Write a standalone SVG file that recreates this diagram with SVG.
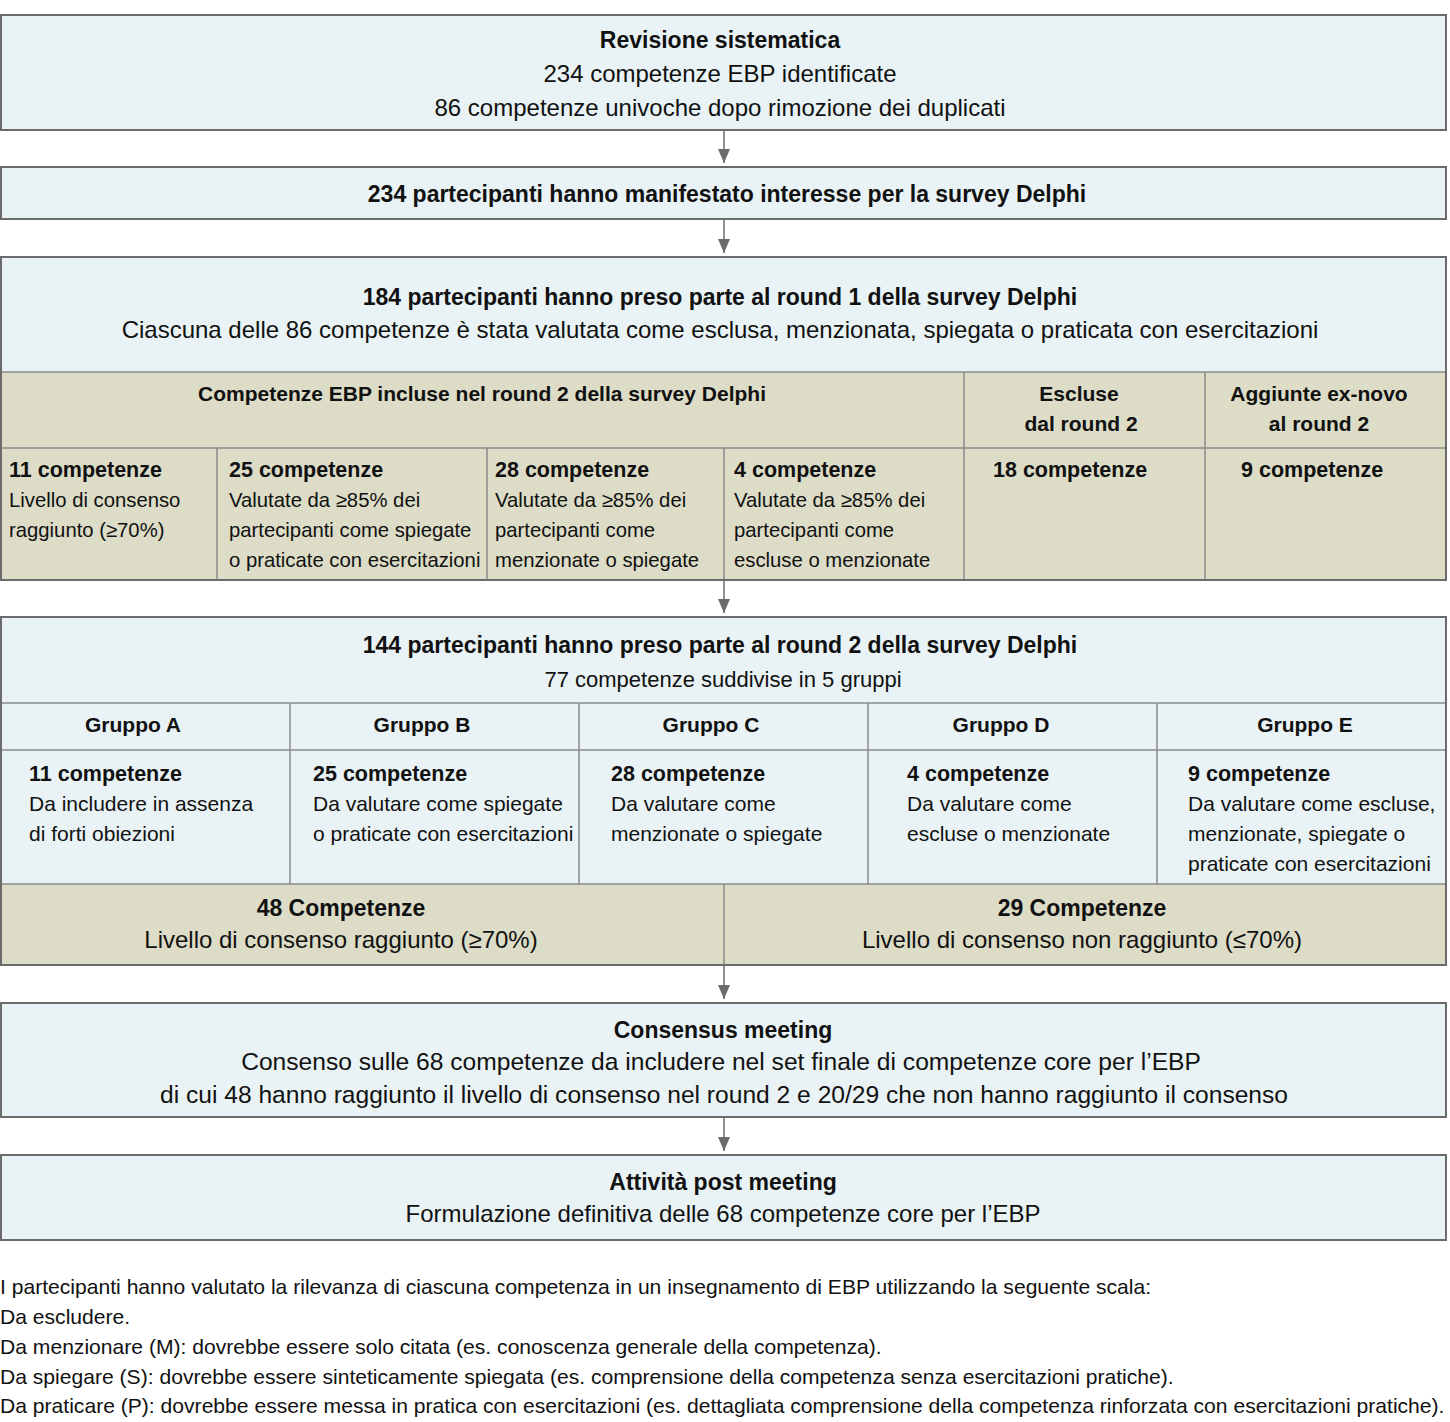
<svg xmlns="http://www.w3.org/2000/svg" width="1450" height="1422" viewBox="0 0 1450 1422">
<style>
text{font-family:"Liberation Sans",Arial,sans-serif;fill:#111;}
.t{font-size:23px;font-weight:bold;text-anchor:middle;}
.r{font-size:24px;text-anchor:middle;}
.r2{font-size:24.6px;text-anchor:middle;}
.h{font-size:21px;font-weight:bold;text-anchor:middle;}
.cb{font-size:21.5px;font-weight:bold;}
.c{font-size:20.3px;}
.gc{font-size:21px;}
.fn{font-size:21.1px;}
.blue{fill:#E9F3F5;}
.olive{fill:#DCDCC7;}
.box{fill:none;stroke:#6b6b6b;stroke-width:2;}
.div{stroke:#8a8a8a;stroke-width:1.5;fill:none;}
.arr{stroke:#6b6b6b;stroke-width:1.5;fill:none;marker-end:url(#ah);}
</style>
<defs>
<marker id="ah" markerWidth="15" markerHeight="12" refX="14" refY="6" orient="auto" markerUnits="userSpaceOnUse" viewBox="0 0 15 12">
<path d="M0,0 L14,6 L0,12 Z" fill="#6b6b6b"/>
</marker>
</defs>
<g id="connectors">
<line class="arr" x1="724" y1="131" x2="724" y2="163"/>
<line class="arr" x1="724" y1="220" x2="724" y2="253"/>
<line class="arr" x1="724" y1="580" x2="724" y2="613"/>
<line class="arr" x1="724" y1="966" x2="724" y2="999"/>
<line class="arr" x1="724" y1="1118" x2="724" y2="1151"/>
</g>
<g id="revisione">
<rect class="blue" x="1" y="15" width="1445" height="115"/>
<rect class="box" x="1" y="15" width="1445" height="115"/>
<text class="t" x="720" y="48">Revisione sistematica</text>
<text class="r" x="720" y="82">234 competenze EBP identificate</text>
<text class="r" x="720" y="116">86 competenze univoche dopo rimozione dei duplicati</text>
</g>
<g id="interesse">
<rect class="blue" x="1" y="167" width="1445" height="52"/>
<rect class="box" x="1" y="167" width="1445" height="52"/>
<text class="t" x="727" y="202">234 partecipanti hanno manifestato interesse per la survey Delphi</text>
</g>
<g id="round1">
<rect class="blue" x="1" y="257" width="1445" height="115"/>
<rect class="olive" x="1" y="372" width="1445" height="208"/>
<path class="div" d="M1,372 H1446 M1,448 H1446 M964,372 V580 M1205,372 V580 M217,448 V580 M487,448 V580 M724,448 V580"/>
<rect class="box" x="1" y="257" width="1445" height="323"/>
<text class="t" x="720" y="305">184 partecipanti hanno preso parte al round 1 della survey Delphi</text>
<text class="r" x="720" y="338">Ciascuna delle 86 competenze è stata valutata come esclusa, menzionata, spiegata o praticata con esercitazioni</text>
<text class="h" x="482" y="401">Competenze EBP incluse nel round 2 della survey Delphi</text>
<text class="h" x="1079" y="401">Escluse</text>
<text class="h" x="1081" y="431">dal round 2</text>
<text class="h" x="1319" y="401">Aggiunte ex-novo</text>
<text class="h" x="1319" y="431">al round 2</text>
<text class="cb" x="9" y="477">11 competenze</text>
<text class="c" x="9" y="507">Livello di consenso</text>
<text class="c" x="9" y="537">raggiunto (≥70%)</text>
<text class="cb" x="229" y="477">25 competenze</text>
<text class="c" x="229" y="507">Valutate da ≥85% dei</text>
<text class="c" x="229" y="537">partecipanti come spiegate</text>
<text class="c" x="229" y="567">o praticate con esercitazioni</text>
<text class="cb" x="495" y="477">28 competenze</text>
<text class="c" x="495" y="507">Valutate da ≥85% dei</text>
<text class="c" x="495" y="537">partecipanti come</text>
<text class="c" x="495" y="567">menzionate o spiegate</text>
<text class="cb" x="734" y="477">4 competenze</text>
<text class="c" x="734" y="507">Valutate da ≥85% dei</text>
<text class="c" x="734" y="537">partecipanti come</text>
<text class="c" x="734" y="567">escluse o menzionate</text>
<text class="cb" x="993" y="477">18 competenze</text>
<text class="cb" x="1241" y="477">9 competenze</text>
</g>
<g id="round2">
<rect class="blue" x="1" y="617" width="1445" height="267"/>
<rect class="olive" x="1" y="884" width="1445" height="81"/>
<path class="div" d="M1,703 H1446 M1,750 H1446 M1,884 H1446 M290,703 V884 M579,703 V884 M868,703 V884 M1157,703 V884 M724,884 V965"/>
<rect class="box" x="1" y="617" width="1445" height="348"/>
<text class="t" x="720" y="653">144 partecipanti hanno preso parte al round 2 della survey Delphi</text>
<text x="723" y="687" style="font-size:22px;text-anchor:middle">77 competenze suddivise in 5 gruppi</text>
<text class="h" x="133" y="732">Gruppo A</text>
<text class="h" x="422" y="732">Gruppo B</text>
<text class="h" x="711" y="732">Gruppo C</text>
<text class="h" x="1001" y="732">Gruppo D</text>
<text class="h" x="1305" y="732">Gruppo E</text>
<text class="cb" x="29" y="781">11 competenze</text>
<text class="gc" x="29" y="811">Da includere in assenza</text>
<text class="gc" x="29" y="841">di forti obiezioni</text>
<text class="cb" x="313" y="781">25 competenze</text>
<text class="gc" x="313" y="811">Da valutare come spiegate</text>
<text class="gc" x="313" y="841">o praticate con esercitazioni</text>
<text class="cb" x="611" y="781">28 competenze</text>
<text class="gc" x="611" y="811">Da valutare come</text>
<text class="gc" x="611" y="841">menzionate o spiegate</text>
<text class="cb" x="907" y="781">4 competenze</text>
<text class="gc" x="907" y="811">Da valutare come</text>
<text class="gc" x="907" y="841">escluse o menzionate</text>
<text class="cb" x="1188" y="781">9 competenze</text>
<text class="gc" x="1188" y="811">Da valutare come escluse,</text>
<text class="gc" x="1188" y="841">menzionate, spiegate o</text>
<text class="gc" x="1188" y="871">praticate con esercitazioni</text>
<text class="t" x="341" y="916">48 Competenze</text>
<text class="r" x="341" y="948">Livello di consenso raggiunto (≥70%)</text>
<text class="t" x="1082" y="916">29 Competenze</text>
<text class="r" x="1082" y="948">Livello di consenso non raggiunto (≤70%)</text>
</g>
<g id="consensus">
<rect class="blue" x="1" y="1003" width="1445" height="114"/>
<rect class="box" x="1" y="1003" width="1445" height="114"/>
<text class="t" x="723" y="1038">Consensus meeting</text>
<text class="r2" x="721" y="1070">Consenso sulle 68 competenze da includere nel set finale di competenze core per l’EBP</text>
<text class="r2" x="724" y="1103">di cui 48 hanno raggiunto il livello di consenso nel round 2 e 20/29 che non hanno raggiunto il consenso</text>
</g>
<g id="post">
<rect class="blue" x="1" y="1155" width="1445" height="85"/>
<rect class="box" x="1" y="1155" width="1445" height="85"/>
<text class="t" x="723" y="1190">Attività post meeting</text>
<text class="r" x="723" y="1222">Formulazione definitiva delle 68 competenze core per l’EBP</text>
</g>
<g id="nota">
<text class="fn" x="0" y="1294">I partecipanti hanno valutato la rilevanza di ciascuna competenza in un insegnamento di EBP utilizzando la seguente scala:</text>
<text class="fn" x="0" y="1324">Da escludere.</text>
<text class="fn" x="0" y="1354">Da menzionare (M): dovrebbe essere solo citata (es. conoscenza generale della competenza).</text>
<text class="fn" x="0" y="1384">Da spiegare (S): dovrebbe essere sinteticamente spiegata (es. comprensione della competenza senza esercitazioni pratiche).</text>
<text class="fn" x="0" y="1413">Da praticare (P): dovrebbe essere messa in pratica con esercitazioni (es. dettagliata comprensione della competenza rinforzata con esercitazioni pratiche).</text>
</g>
</svg>
